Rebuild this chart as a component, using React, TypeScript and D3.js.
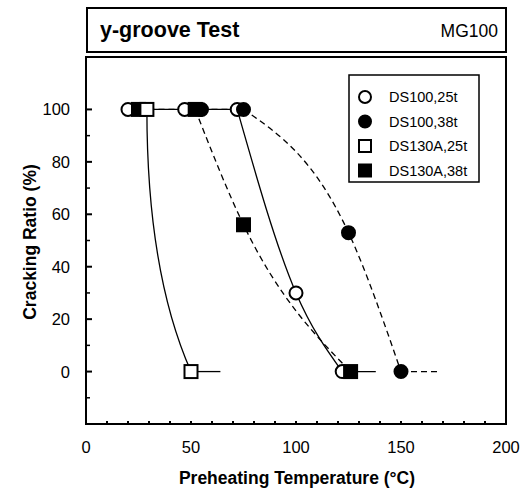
import React from "react";
import * as d3 from "d3";

type Pt = { x: number; y: number };

const xTicks = [0, 50, 100, 150, 200];
const yTicks = [0, 20, 40, 60, 80, 100];
const yMinor = [-10, 10, 30, 50, 70, 90];
const xMinor = d3.range(10, 200, 10);

const ds100_25t: Pt[] = [
  { x: 20, y: 100 }, { x: 47, y: 100 }, { x: 72, y: 100 }, { x: 100, y: 30 }, { x: 122, y: 0 },
];
const ds100_38t: Pt[] = [
  { x: 55, y: 100 }, { x: 75, y: 100 }, { x: 125, y: 53 }, { x: 150, y: 0 },
];
const ds130a_25t: Pt[] = [{ x: 29, y: 100 }, { x: 50, y: 0 }];
const ds130a_38t: Pt[] = [
  { x: 25, y: 100 }, { x: 52, y: 100 }, { x: 75, y: 56 }, { x: 126, y: 0 },
];
// horizontal tails drawn after the last (0 %) point
const tail100_25 = 138;
const tail100_38 = 168;
const tail130a_25 = 64;

const legendLabels = ["DS100,25t", "DS100,38t", "DS130A,25t", "DS130A,38t"];

const W = 520, H = 490;
const L = 86, R = 506, T = 57, B = 424;
const x = d3.scaleLinear().domain([0, 200]).range([L, R]);
const y = d3.scaleLinear().domain([-20, 120]).range([B, T]);
const FONT = "Liberation Sans, Arial, Helvetica, sans-serif";
const DASH = "6,4";

function seriesPath(pts: Pt[]): string {
  const top = d3.max(pts, (p) => p.y)!;
  let k = 0;
  pts.forEach((p, i) => { if (p.y === top) k = i; });
  const flat = pts.slice(0, k + 1);
  const desc = pts.slice(k);
  let d = "";
  if (flat.length > 1) d += d3.line<Pt>().x((p) => x(p.x)).y((p) => y(p.y))(flat);
  if (desc.length === 2) {
    const [a, b] = desc;
    const p = d3.path();
    p.moveTo(x(a.x), y(a.y));
    p.quadraticCurveTo(x(a.x), y(a.y) + 0.62 * (y(b.y) - y(a.y)), x(b.x), y(b.y));
    d += p.toString();
  } else if (desc.length > 2) {
    d += d3.line<Pt>().x((p) => x(p.x)).y((p) => y(p.y)).curve(d3.curveMonotoneX)(desc);
  }
  return d;
}

function tail(pts: Pt[], to: number): string {
  const last = pts[pts.length - 1];
  return d3.line<Pt>().x((p) => x(p.x)).y((p) => y(p.y))([last, { x: to, y: last.y }])!;
}

const R_M = 6.5;
const S_M = 13;

function Circle({ p, filled }: { p: Pt; filled: boolean }) {
  return <circle cx={x(p.x)} cy={y(p.y)} r={R_M} fill={filled ? "#000" : "#fff"} stroke="#000" strokeWidth={2} />;
}
function Square({ p, filled }: { p: Pt; filled: boolean }) {
  return (
    <rect x={x(p.x) - S_M / 2} y={y(p.y) - S_M / 2} width={S_M} height={S_M}
      fill={filled ? "#000" : "#fff"} stroke="#000" strokeWidth={2} />
  );
}

export default function App() {
  const legX = 349, legY = 75, legW = 130, legH = 107;
  const rowY = (i: number) => legY + 22 + i * 24.5;
  return (
    <svg width={W} height={H} style={{ position: "absolute", left: 0, top: 0, background: "#fff" }}
      fontFamily={FONT}>
      {/* title box */}
      <rect x={87} y={8} width={419} height={44} fill="none" stroke="#000" strokeWidth={2} />
      <text x={100} y={37} fontSize={21.5} fontWeight="bold">y-groove Test</text>
      <text x={498} y={37} fontSize={17.5} textAnchor="end">MG100</text>

      {/* plot frame */}
      <rect x={L} y={T} width={R - L} height={B - T} fill="none" stroke="#000" strokeWidth={2} />

      {/* y ticks */}
      {yTicks.map((t) => (
        <g key={"y" + t}>
          <line x1={L} x2={L + 6} y1={y(t)} y2={y(t)} stroke="#000" strokeWidth={2} />
          <text x={70} y={y(t)} dy="0.36em" fontSize={16.5} textAnchor="end">{t}</text>
        </g>
      ))}
      {yMinor.map((t) => (
        <line key={"ym" + t} x1={L} x2={L + 4} y1={y(t)} y2={y(t)} stroke="#000" strokeWidth={1.5} />
      ))}
      {/* x ticks */}
      {xMinor.map((t) => (
        <line key={"xm" + t} x1={x(t)} x2={x(t)} y1={B} y2={B - 3} stroke="#000" strokeWidth={2} />
      ))}
      {xTicks.map((t) => (
        <text key={"x" + t} x={x(t)} y={453} fontSize={16.5} textAnchor="middle">{t}</text>
      ))}

      <text x={297} y={484} fontSize={17.5} fontWeight="bold" textAnchor="middle">
        Preheating Temperature (°C)
      </text>
      <text transform={`translate(36,242) rotate(-90)`} fontSize={17.5} fontWeight="bold" textAnchor="middle">
        Cracking Ratio (%)
      </text>

      {/* lines */}
      <g fill="none" stroke="#000" strokeWidth={1.3}>
        <path d={seriesPath(ds100_25t)} />
        <path d={tail(ds100_25t, tail100_25)} />
        <path d={seriesPath(ds100_38t)} strokeDasharray={DASH} />
        <path d={tail(ds100_38t, tail100_38)} strokeDasharray={DASH} />
        <path d={seriesPath(ds130a_25t)} />
        <path d={tail(ds130a_25t, tail130a_25)} />
        <path d={seriesPath(ds130a_38t)} strokeDasharray={DASH} />
      </g>

      {/* markers */}
      {ds100_25t.map((p, i) => <Circle key={"a" + i} p={p} filled={false} />)}
      {ds130a_38t.map((p, i) => <Square key={"d" + i} p={p} filled={true} />)}
      {ds130a_25t.map((p, i) => <Square key={"c" + i} p={p} filled={false} />)}
      {ds100_38t.map((p, i) => <Circle key={"b" + i} p={p} filled={true} />)}

      {/* legend */}
      <rect x={legX} y={legY} width={legW} height={legH} fill="#fff" stroke="#000" strokeWidth={1.5} />
      {legendLabels.map((lab, i) => {
        const cy = rowY(i);
        const cx = legX + 16;
        const filled = i % 2 === 1;
        return (
          <g key={lab}>
            {i < 2 ? (
              <circle cx={cx} cy={cy} r={6} fill={filled ? "#000" : "#fff"} stroke="#000" strokeWidth={2} />
            ) : (
              <rect x={cx - 6} y={cy - 6} width={12} height={12} fill={filled ? "#000" : "#fff"} stroke="#000" strokeWidth={2} />
            )}
            <text x={legX + 40} y={cy} dy="0.36em" fontSize={14.5}>{lab}</text>
          </g>
        );
      })}
    </svg>
  );
}
